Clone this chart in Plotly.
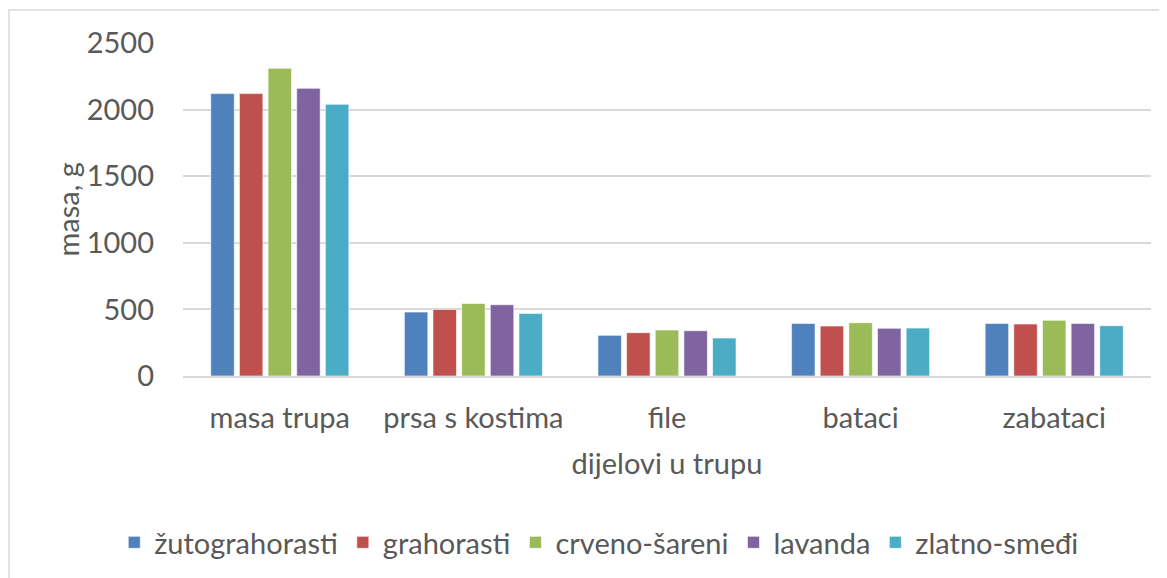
import plotly.graph_objects as go

# dijelovi u trupu (x kategorije)
dijelovi = ["masa trupa", "prsa s kostima", "file", "bataci", "zabataci"]

# masa, g po pasmini
zutograhorasti = [2120, 480, 305, 395, 395]
grahorasti = [2120, 500, 325, 375, 390]
crveno_sareni = [2310, 545, 345, 400, 418]
lavanda = [2160, 535, 340, 358, 395]
zlatno_smedi = [2040, 470, 285, 360, 378]

serije = [
    ("žutograhorasti", zutograhorasti, "#4F81BD"),
    ("grahorasti", grahorasti, "#C0504D"),
    ("crveno-šareni", crveno_sareni, "#9BBB59"),
    ("lavanda", lavanda, "#8064A2"),
    ("zlatno-smeđi", zlatno_smedi, "#4BACC6"),
]

FONT = "Lato"
TXT = "#595959"

fig = go.Figure()
for ime, vrijednosti, boja in serije:
    fig.add_trace(go.Bar(
        x=dijelovi, y=vrijednosti, name=ime,
        marker=dict(color=boja, line=dict(color="rgba(255,255,255,0.6)", width=1)),
    ))

# stranica ima 8px margine tijela, pa su margine umanjene za to
fig.update_layout(
    width=1167, height=578,
    barmode="group", bargap=0.26, bargroupgap=0.18,
    paper_bgcolor="white", plot_bgcolor="white",
    margin=dict(l=175, r=24, t=35, b=210, autoexpand=False),
    font=dict(family=FONT, size=29, color=TXT),
    showlegend=True,
    legend=dict(orientation="h", x=0.43, xanchor="center", y=-0.5, yanchor="middle",
                font=dict(size=29, color=TXT), itemwidth=30, traceorder="normal"),
)
fig.update_yaxes(
    range=[0, 2500], dtick=500, showgrid=True, gridcolor="#D9D9D9", gridwidth=1.5,
    zeroline=False, showline=False, ticks="", ticklabelstandoff=28, automargin=False,
)
fig.update_xaxes(
    showline=True, linecolor="#D9D9D9", linewidth=1.5, ticks="", automargin=False,
    ticklabelstandoff=15,
    title=dict(text="dijelovi u trupu", font=dict(size=29, color=TXT), standoff=21),
)

# naslov y osi (blizu oznaka, kao u Excelu)
fig.add_annotation(text="masa, g", textangle=-90, xref="paper", yref="paper",
                   x=(67 - 183) / 968, y=0.5, xanchor="center", yanchor="middle",
                   showarrow=False, font=dict(size=29, color=TXT))

# okvir grafikona (lijevi i gornji rub)
fig.add_shape(type="rect", xref="paper", yref="paper",
              x0=(1 - 175) / 968, x1=1.05, y0=-0.7, y1=1 + (35 - 2) / 333,
              line=dict(color="#D9D9D9", width=1.5), fillcolor="rgba(0,0,0,0)", layer="below")

fig.write_html("out.html")
